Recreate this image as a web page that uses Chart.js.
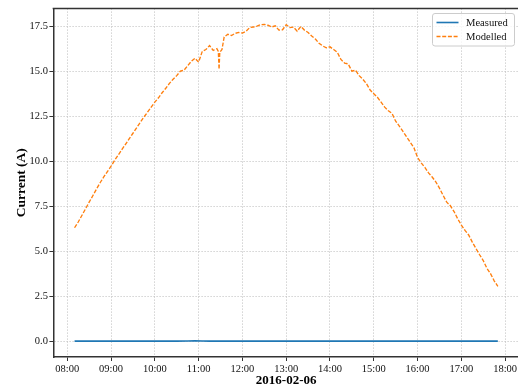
<!DOCTYPE html>
<html>
<head>
<meta charset="utf-8">
<script src="https://cdn.jsdelivr.net/npm/chart.js@4/dist/chart.umd.min.js"></script>
<style>
  html, body { margin: 0; padding: 0; background: #fff; overflow: hidden; }
  #wrap { width: 518px; height: 389px; overflow: hidden; }
  canvas { display: block; }
</style>
</head>
<body>
<div id="wrap"><canvas id="c" width="522" height="389"></canvas></div>
<script>
// Day of the measurement
const dateLabel = '2016-02-06';

// Modelled string current (A), local time
const modelTimes = [
  '08:10','08:15','08:20','08:25','08:30','08:35','08:40','08:45','08:50','08:55',
  '09:00','09:05','09:10','09:15','09:20','09:25','09:30','09:35','09:40','09:45','09:50','09:55',
  '10:00','10:05','10:10','10:15','10:20','10:25','10:30','10:35','10:40','10:45','10:50','10:55',
  '11:00','11:05','11:10','11:15','11:20','11:25','11:27','11:28','11:29','11:32','11:35','11:40','11:45','11:50','11:55',
  '12:00','12:05','12:10','12:15','12:20','12:25','12:30','12:35','12:40','12:45','12:50','12:55',
  '13:00','13:05','13:10','13:15','13:20','13:25','13:30','13:35','13:40','13:45','13:50','13:55',
  '14:00','14:05','14:10','14:15','14:20','14:25','14:30','14:35','14:40','14:45','14:50','14:55',
  '15:00','15:05','15:10','15:15','15:20','15:25','15:30','15:35','15:40','15:45','15:50','15:55',
  '16:00','16:05','16:10','16:15','16:20','16:25','16:30','16:35','16:40','16:45','16:50','16:55',
  '17:00','17:05','17:10','17:15','17:20','17:25','17:30','17:35','17:40','17:45','17:50'
];
const modelCurrent = [
  6.30, 6.62, 6.98, 7.35, 7.72, 8.08, 8.45, 8.80, 9.12, 9.42,
  9.72, 10.05, 10.35, 10.65, 10.95, 11.25, 11.55, 11.85, 12.15, 12.45, 12.72, 13.00,
  13.28, 13.52, 13.80, 14.05, 14.32, 14.55, 14.75, 15.00, 15.05, 15.30, 15.55, 15.72,
  15.50, 16.10, 16.20, 16.42, 16.15, 16.25, 16.10, 15.10, 16.05, 16.20, 16.90, 17.05, 16.98, 17.10, 17.15,
  17.12, 17.22, 17.42, 17.45, 17.50, 17.58, 17.60, 17.55, 17.45, 17.52, 17.28, 17.30,
  17.58, 17.42, 17.45, 17.22, 17.48, 17.28, 17.15, 16.95, 16.78, 16.55, 16.40, 16.30,
  16.35, 16.20, 16.05, 15.65, 15.45, 15.40, 15.00, 15.05, 14.75, 14.55, 14.30, 13.95,
  13.75, 13.55, 13.28, 13.00, 12.80, 12.65, 12.22, 11.95, 11.65, 11.35, 11.05, 10.75,
  10.20, 9.90, 9.65, 9.35, 9.12, 8.85, 8.50, 8.10, 7.72, 7.52, 7.20, 6.80,
  6.45, 6.15, 5.90, 5.50, 5.15, 4.80, 4.48, 4.05, 3.75, 3.35, 3.05
];

// Measured string current (A)
const measuredTimes = ['08:10', '10:30', '10:45', '10:55', '11:05', '11:15', '17:50'];
const measuredCurrent = [0.0, 0.0, 0.01, 0.02, 0.01, 0.0, 0.0];

// Axis ticks
const hourTicks = ['08:00','09:00','10:00','11:00','12:00','13:00','14:00','15:00','16:00','17:00','18:00'];
const currentTicks = [0.0, 2.5, 5.0, 7.5, 10.0, 12.5, 15.0, 17.5];

const toMinutes = s => { const [h, m] = s.split(':').map(Number); return h * 60 + m; };
const fmtTime = v => {
  const h = Math.floor(v / 60), m = Math.round(v - h * 60);
  return String(h).padStart(2, '0') + ':' + String(m).padStart(2, '0');
};

const modelPts = modelTimes.map((t, i) => ({ x: toMinutes(t), y: modelCurrent[i] }));
const measuredPts = measuredTimes.map((t, i) => ({ x: toMinutes(t), y: measuredCurrent[i] }));

// 5 % margins around the data, both axes
const allX = modelPts.concat(measuredPts).map(p => p.x);
const allY = modelPts.concat(measuredPts).map(p => p.y);
const xLo = Math.min(...allX), xHi = Math.max(...allX);
const yLo = Math.min(...allY), yHi = Math.max(...allY);
const xPad = (xHi - xLo) * 0.05, yPad = (yHi - yLo) * 0.05;

const SERIF = '"Liberation Serif", "DejaVu Serif", serif';
const SPINE = '#333333';
const GRID = '#b8b8b8';

// Top spine and a boxed legend in the upper right corner
const decor = {
  id: 'decor',
  afterDraw(chart) {
    const { ctx, chartArea: a } = chart;
    ctx.save();
    ctx.strokeStyle = SPINE;
    ctx.lineWidth = 1.5;
    ctx.beginPath();
    ctx.moveTo(a.left - 0.75, a.top);
    ctx.lineTo(a.right + 0.75, a.top);
    ctx.moveTo(a.right, a.top);
    ctx.lineTo(a.right, a.bottom);
    ctx.stroke();

    // legend box
    const bx = 432.5, by = 13.5, bw = 82, bh = 32.5, r = 2.5;
    ctx.beginPath();
    ctx.moveTo(bx + r, by);
    ctx.lineTo(bx + bw - r, by);
    ctx.arcTo(bx + bw, by, bx + bw, by + r, r);
    ctx.lineTo(bx + bw, by + bh - r);
    ctx.arcTo(bx + bw, by + bh, bx + bw - r, by + bh, r);
    ctx.lineTo(bx + r, by + bh);
    ctx.arcTo(bx, by + bh, bx, by + bh - r, r);
    ctx.lineTo(bx, by + r);
    ctx.arcTo(bx, by, bx + r, by, r);
    ctx.closePath();
    ctx.fillStyle = 'rgba(255,255,255,0.8)';
    ctx.fill();
    ctx.strokeStyle = '#cccccc';
    ctx.lineWidth = 1;
    ctx.stroke();

    const rows = [22.5, 36.5];
    chart.data.datasets.forEach((ds, i) => {
      const y = rows[i];
      ctx.beginPath();
      ctx.setLineDash(ds.borderDash || []);
      ctx.strokeStyle = ds.borderColor;
      ctx.lineWidth = ds.borderWidth;
      ctx.moveTo(436.5, y);
      ctx.lineTo(458.5, y);
      ctx.stroke();
      ctx.setLineDash([]);
      ctx.fillStyle = '#111';
      ctx.font = '10.6px ' + SERIF;
      ctx.textBaseline = 'middle';
      ctx.textAlign = 'left';
      ctx.fillText(ds.label, 466, y + 0.5);
    });
    ctx.restore();
  }
};

new Chart(document.getElementById('c'), {
  type: 'line',
  data: {
    datasets: [
      {
        label: 'Measured',
        data: measuredPts,
        borderColor: '#1f77b4',
        borderWidth: 1.6,
        pointRadius: 0,
        tension: 0,
        fill: false
      },
      {
        label: 'Modelled',
        data: modelPts,
        borderColor: '#ff7f0e',
        borderWidth: 1.35,
        borderDash: [4, 1.7],
        pointRadius: 0,
        tension: 0,
        fill: false
      }
    ]
  },
  options: {
    responsive: false,
    animation: false,
    events: [],
    layout: { padding: { top: 8.5, right: 3, bottom: 0, left: 0 } },
    plugins: { legend: { display: false }, tooltip: { enabled: false } },
    scales: {
      x: {
        type: 'linear',
        min: xLo - xPad,
        max: xHi + xPad,
        afterBuildTicks: s => { s.ticks = hourTicks.map(t => ({ value: toMinutes(t) })); },
        afterFit: s => { s.height = 32; },
        ticks: {
          callback: v => fmtTime(v),
          color: '#111',
          font: { family: SERIF, size: 10.5 },
          padding: 2,
          maxRotation: 0,
          autoSkip: false
        },
        grid: {
          color: GRID,
          lineWidth: 0.8,
          tickColor: SPINE,
          tickWidth: 1,
          tickLength: 4
        },
        border: { display: true, color: SPINE, width: 1.5, dash: [1.2, 1.8] },
        title: {
          display: true,
          text: dateLabel,
          color: '#000',
          font: { family: SERIF, size: 13, weight: 'bold' },
          padding: { top: 0, bottom: 1 }
        }
      },
      y: {
        type: 'linear',
        min: yLo - yPad,
        max: yHi + yPad,
        afterBuildTicks: s => { s.ticks = currentTicks.map(v => ({ value: v })); },
        afterFit: s => { s.width = 53.4; },
        ticks: {
          callback: v => v.toFixed(1),
          color: '#111',
          font: { family: SERIF, size: 10.5 },
          padding: 1.5
        },
        grid: {
          color: GRID,
          lineWidth: 0.8,
          tickColor: SPINE,
          tickWidth: 1,
          tickLength: 4
        },
        border: { display: true, color: SPINE, width: 1.5, dash: [1.2, 1.8] },
        title: {
          display: true,
          text: 'Current (A)',
          color: '#000',
          font: { family: SERIF, size: 13.5, weight: 'bold' },
          padding: { top: 13, bottom: 0 }
        }
      }
    }
  },
  plugins: [decor]
});
</script>
</body>
</html>
